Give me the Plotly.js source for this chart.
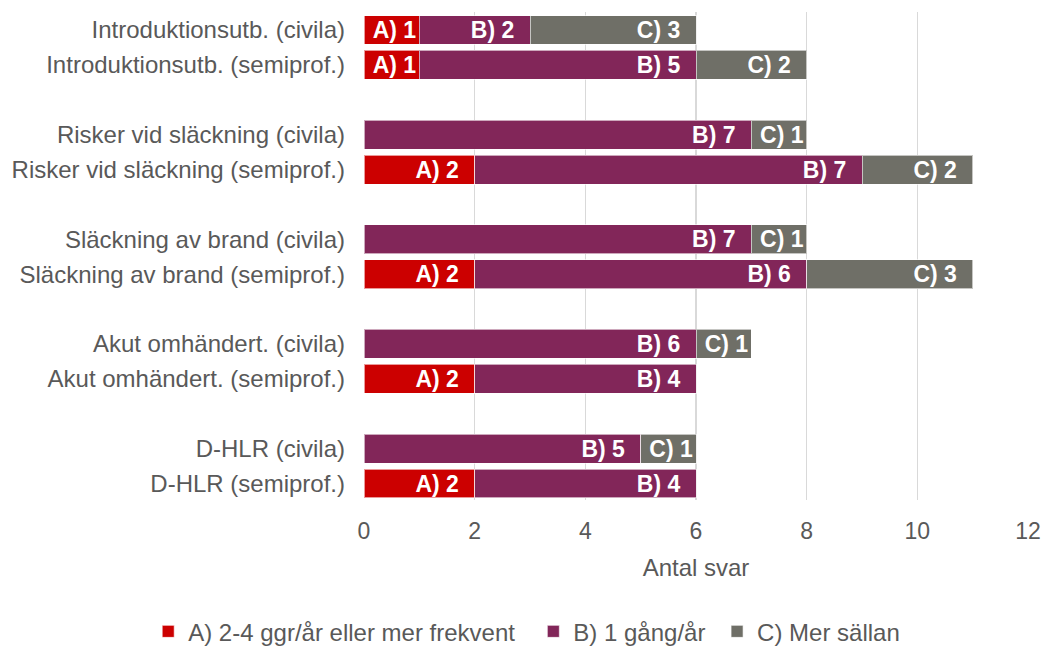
<!DOCTYPE html>
<html>
<head>
<meta charset="utf-8">
<script src="https://cdn.plot.ly/plotly-3.0.1.min.js"></script>
<style>html,body{margin:0;padding:0;background:#fff;}#chart{width:1045px;height:646px;}</style>
</head>
<body>
<div id="chart"></div>
<script>
// Categories, top to bottom as shown
const categories = [
  "Introduktionsutb. (civila)",
  "Introduktionsutb. (semiprof.)",
  "Risker vid släckning (civila)",
  "Risker vid släckning (semiprof.)",
  "Släckning av brand (civila)",
  "Släckning av brand (semiprof.)",
  "Akut omhändert. (civila)",
  "Akut omhändert. (semiprof.)",
  "D-HLR (civila)",
  "D-HLR (semiprof.)"
];
const seriesNames = ["A) 2-4 ggr/år eller mer frekvent", "B) 1 gång/år", "C) Mer sällan"];
const seriesPrefix = ["A)", "B)", "C)"];
const valuesA = [1, 1, 0, 2, 0, 2, 0, 2, 0, 2];
const valuesB = [2, 5, 7, 7, 7, 6, 6, 4, 5, 4];
const valuesC = [3, 2, 1, 2, 1, 3, 1, 0, 1, 0];
const xTicks = [0, 2, 4, 6, 8, 10, 12];
const xTitle = "Antal svar";

const colors = ["#CC0000", "#822659", "#6F6F67"];
const textGrey = "#595959";
const font = "Liberation Sans, Arial, sans-serif";
// extra spacing after legend entries (visual only)
const legendPad = ["\u00a0\u00a0", "\u00a0", ""];

// y positions: pairs separated by a one-row gap
const n = categories.length;
const yPos = categories.map((c, i) => {
  const group = Math.floor(i / 2);
  const within = i % 2;
  const fromTop = group * 3 + within;
  return ((n / 2) * 3 - 2) - fromTop;
});

const allValues = [valuesA, valuesB, valuesC];
const traces = allValues.map((vals, s) => ({
  type: "bar",
  orientation: "h",
  name: seriesNames[s] + legendPad[s],
  y: yPos,
  x: vals.map(v => v === 0 ? null : v),
  text: vals.map(v => v === 0 ? "" : (seriesPrefix[s] + " " + v + (v >= 2 ? "\u00a0\u00a0" : ""))),
  textposition: "inside",
  insidetextanchor: "end",
  constraintext: "none",
  textfont: {family: font, size: 23, color: "#ffffff", weight: "bold"},
  marker: {color: colors[s], line: {color: "rgba(255,255,255,0.6)", width: 1}},
  width: 0.83,
  hoverinfo: "skip"
}));

const layout = {
  width: 1045,
  height: 646,
  barmode: "stack",
  paper_bgcolor: "#ffffff",
  plot_bgcolor: "#ffffff",
  margin: {l: 364, r: 17, t: 12, b: 146, autoexpand: false},
  font: {family: font, color: textGrey, size: 22},
  showlegend: true,
  legend: {
    orientation: "h",
    x: -0.325, xanchor: "left",
    y: -0.27, yanchor: "middle",
    font: {family: font, size: 24, color: textGrey},
    itemwidth: 30,
    traceorder: "normal"
  },
  xaxis: {
    range: [0, 12],
    tickvals: xTicks,
    ticktext: xTicks.map(String),
    showgrid: true,
    gridcolor: "#D9D9D9",
    gridwidth: 1.5,
    zeroline: false,
    showline: false,
    ticks: "",
    ticklabelstandoff: 15,
    tickfont: {family: font, size: 23, color: textGrey},
    title: {text: xTitle, font: {family: font, size: 24, color: textGrey}, standoff: 16},
    fixedrange: true
  },
  yaxis: {
    range: [-0.473, 13.516],
    tickvals: yPos,
    ticktext: categories,
    showgrid: false,
    zeroline: false,
    showline: false,
    ticks: "",
    ticklabelstandoff: 18,
    tickfont: {family: font, size: 24, color: textGrey},
    fixedrange: true
  }
};

Plotly.newPlot("chart", traces, layout, {displayModeBar: false, staticPlot: true});
</script>
</body>
</html>
